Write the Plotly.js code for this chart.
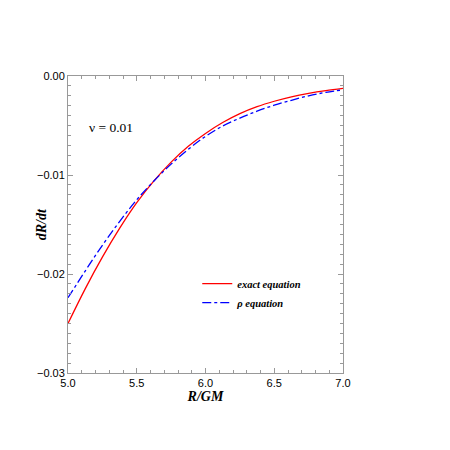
<!DOCTYPE html>
<html>
<head>
<meta charset="utf-8">
<script src="https://cdn.plot.ly/plotly-3.0.1.min.js"></script>
<style>
  body { margin: 0; background: #fff; }
  #chart { width: 450px; height: 450px; }
</style>
</head>
<body>
<div id="chart"></div>
<script>
// radius values (R/GM)
const radius = [5.0, 5.125, 5.25, 5.375, 5.5, 5.625, 5.75, 5.875, 6.0,
                6.125, 6.25, 6.375, 6.5, 6.625, 6.75, 6.875, 7.0];
// dR/dt from the exact equation
const exactVals = [-0.0250, -0.0215, -0.0183, -0.0154, -0.0128, -0.0106, -0.0087, -0.0071, -0.0058,
                   -0.0047, -0.0038, -0.0031, -0.00255, -0.0021, -0.00175, -0.00147, -0.00125];
// dR/dt from the rho equation
const rhoVals = [-0.0224, -0.0197, -0.0171, -0.0147, -0.0125, -0.0106, -0.0089, -0.0074, -0.0061,
                 -0.00505, -0.00425, -0.00355, -0.00295, -0.00245, -0.0020, -0.00165, -0.0014];

const serif = "Liberation Serif, Times New Roman, serif";
const sans = "Liberation Sans Narrow, Liberation Sans, Arial, sans-serif";

var traces = [
  {
    x: radius,
    y: exactVals,
    name: "<b><i>exact equation</i></b>",
    mode: "lines",
    line: { color: "red", width: 1.3, shape: "spline" },
  },
  {
    x: radius,
    y: rhoVals,
    name: "<b><i>\u03c1 equation</i></b>",
    mode: "lines",
    line: { color: "blue", width: 1.3, dash: "dashdot", shape: "spline" },
  },
];

var axisCommon = {
  showgrid: false,
  zeroline: false,
  showline: true,
  linecolor: "#999",
  linewidth: 1,
  mirror: "allticks",
  ticks: "inside",
  ticklen: 5,
  tickcolor: "#999",
  tickfont: { family: sans, size: 11, color: "#000" },
};

var layout = {
  width: 450,
  height: 450,
  margin: { l: 68, r: 107, t: 76, b: 77 },
  paper_bgcolor: "#fff",
  plot_bgcolor: "#fff",
  showlegend: true,
  legend: {
    x: 0.47,
    y: 0.35,
    xanchor: "left",
    yanchor: "top",
    font: { family: serif, size: 10.5, color: "#000" },
    bgcolor: "rgba(0,0,0,0)",
    itemwidth: 30,
    tracegroupgap: 0,
  },
  xaxis: Object.assign({}, axisCommon, {
    range: [5.0, 7.0],
    dtick: 0.5,
    tickformat: ".1f",
    minor: { dtick: 0.1, ticks: "inside", ticklen: 3, tickcolor: "#999" },
    title: { text: "<b><i>R/GM</i></b>", font: { family: serif, size: 14, color: "#000" }, standoff: 0 },
  }),
  yaxis: Object.assign({}, axisCommon, {
    range: [-0.03, 0.0],
    dtick: 0.01,
    tickformat: ".2f",
    minor: { dtick: 0.001, ticks: "inside", ticklen: 3, tickcolor: "#999" },
  }),
  annotations: [
    {
      xref: "paper",
      yref: "paper",
      x: 0.07,
      y: 0.86,
      xanchor: "left",
      showarrow: false,
      text: "\u03bd = 0.01",
      font: { family: serif, size: 13.5, color: "#000" },
    },
    {
      // y axis title, placed by hand to sit closer to the tick labels
      xref: "paper",
      yref: "paper",
      x: -0.13,
      y: 0.5,
      textangle: -90,
      showarrow: false,
      text: "<b><i>dR/dt</i></b>",
      font: { family: serif, size: 14, color: "#000" },
    },
  ],
};

Plotly.newPlot("chart", traces, layout, { displayModeBar: false, staticPlot: true });
</script>
</body>
</html>
